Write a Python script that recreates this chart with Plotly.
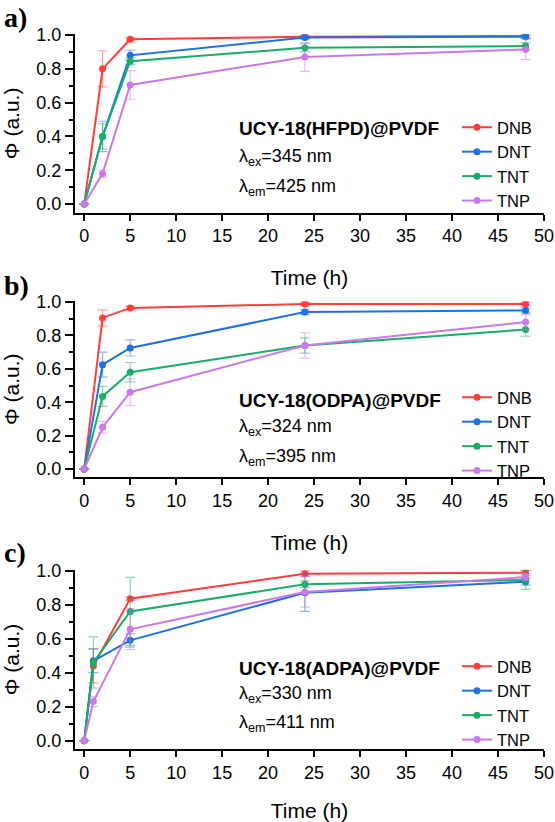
import plotly.graph_objects as go

# ---------------- data ----------------
series_names = ["DNB", "DNT", "TNT", "TNP"]
colors = ["#ff3d3d", "#1f6fe6", "#19ad68", "#c979ea"]
err_colors = ["rgba(255,61,61,0.5)", "rgba(31,111,230,0.5)", "rgba(25,173,104,0.5)", "rgba(201,121,234,0.5)"]

time_a = [0, 2, 5, 24, 48]
a_DNB = [0, 0.80, 0.975, 0.99, 0.995]
a_DNT = [0, 0.40, 0.88, 0.985, 0.99]
a_TNT = [0, 0.40, 0.845, 0.925, 0.935]
a_TNP = [0, 0.18, 0.705, 0.87, 0.915]
a_err_DNB = [0, 0.107, 0.01, 0.01, 0.01]
a_err_DNT = [0, 0.09, 0.03, 0.01, 0.01]
a_err_TNT = [0, 0.075, 0.02, 0.025, 0.02]
a_err_TNP = [0, 0.02, 0.085, 0.085, 0.06]

time_b = [0, 2, 5, 24, 48]
b_DNB = [0, 0.905, 0.965, 0.988, 0.988]
b_DNT = [0, 0.625, 0.725, 0.94, 0.95]
b_TNT = [0, 0.435, 0.58, 0.74, 0.835]
b_TNP = [0, 0.25, 0.46, 0.74, 0.88]
b_err_DNB = [0, 0.048, 0.01, 0.01, 0.01]
b_err_DNT = [0, 0.075, 0.048, 0.015, 0.015]
b_err_TNT = [0, 0.06, 0.058, 0.046, 0.04]
b_err_TNP = [0, 0.035, 0.08, 0.076, 0.046]

time_c = [0, 1, 5, 24, 48]
c_DNB = [0, 0.44, 0.835, 0.982, 0.988]
c_DNT = [0, 0.47, 0.59, 0.87, 0.935]
c_TNT = [0, 0.46, 0.76, 0.92, 0.945]
c_TNP = [0, 0.23, 0.655, 0.875, 0.962]
c_err_DNB = [0, 0.10, 0.01, 0.015, 0.015]
c_err_DNT = [0, 0.07, 0.04, 0.11, 0.02]
c_err_TNT = [0, 0.15, 0.20, 0.02, 0.055]
c_err_TNP = [0, 0.03, 0.12, 0.09, 0.02]

panel_labels = ["a)", "b)", "c)"]
sample_names = ["UCY-18(HFPD)@PVDF", "UCY-18(ODPA)@PVDF", "UCY-18(ADPA)@PVDF"]
lambda_ex = ["345", "324", "330"]
lambda_em = ["425", "395", "411"]

panels = [
    (time_a, [a_DNB, a_DNT, a_TNT, a_TNP], [a_err_DNB, a_err_DNT, a_err_TNT, a_err_TNP]),
    (time_b, [b_DNB, b_DNT, b_TNT, b_TNP], [b_err_DNB, b_err_DNT, b_err_TNT, b_err_TNP]),
    (time_c, [c_DNB, c_DNT, c_TNT, c_TNP], [c_err_DNB, c_err_DNT, c_err_TNT, c_err_TNP]),
]

# ---------------- layout geometry (pixels) ----------------
W, H = 555, 822
FONT = "Liberation Sans, Arial, sans-serif"
x_dom = [75 / W, 544 / W]
# (top px, bottom px) of each plot area
y_px = [(34.2, 212.5), (301.2, 477.4), (569.8, 749.2)]
label_y = [17, 285, 552]
text_y = [(128, 157, 187), (400, 427, 457), (668, 694, 723)]
legend_top = [110, 380, 649]

fig = go.Figure()

for p, (t, vals, errs) in enumerate(panels):
    sfx = "" if p == 0 else str(p + 1)
    leg = "legend" if p == 0 else f"legend{p + 1}"
    for i, name in enumerate(series_names):
        fig.add_trace(go.Scatter(
            x=t, y=vals[i], name=name, mode="lines+markers",
            line=dict(color=colors[i], width=2),
            marker=dict(color=colors[i], size=7),
            error_y=dict(type="data", array=errs[i], color=err_colors[i], thickness=1.2, width=5),
            xaxis="x" + sfx, yaxis="y" + sfx, legend=leg,
        ))
    top, bot = y_px[p]
    ydom = [1 - bot / H, 1 - top / H]
    axis_common = dict(showline=True, linecolor="black", linewidth=2, showgrid=False, zeroline=False,
                       ticks="outside", tickcolor="black", tickwidth=1.5, automargin=False,
                       tickfont=dict(family=FONT, size=18, color="black"))
    fig.update_layout(**{
        "xaxis" + sfx: dict(domain=x_dom, range=[-1, 50], dtick=5, tick0=0, ticklen=6,
                            anchor="y" + sfx,
                            title=dict(text="Time (h)", font=dict(family=FONT, size=21, color="black"), standoff=25),
                            **axis_common),
        "yaxis" + sfx: dict(domain=ydom, range=[-0.05, 1.005], dtick=0.2, tick0=0, ticklen=8,
                            tickformat=".1f", anchor="x" + sfx,
                            minor=dict(dtick=0.1, ticklen=4, ticks="outside", tickcolor="black", tickwidth=1.5),
                            title=dict(text="Φ (a.u.)", font=dict(family=FONT, size=21, color="black"), standoff=12),
                            **axis_common),
        leg: dict(x=457 / W, y=1 - legend_top[p] / H, xanchor="left", yanchor="top",
                  bgcolor="rgba(0,0,0,0)", font=dict(family=FONT, size=16.5, color="black"),
                  tracegroupgap=0),
    })
    fig.add_annotation(text="<b>" + panel_labels[p] + "</b>", x=2 / W, y=1 - label_y[p] / H,
                       xref="paper", yref="paper",
                       xanchor="left", yanchor="middle", showarrow=False,
                       font=dict(family="Liberation Serif, Times New Roman, serif", size=28, color="black"))
    lines = [f"<b>{sample_names[p]}</b>",
             f"λ<sub>ex</sub>={lambda_ex[p]} nm",
             f"λ<sub>em</sub>={lambda_em[p]} nm"]
    for j, txt in enumerate(lines):
        fig.add_annotation(text=txt, x=237 / W, y=1 - text_y[p][j] / H, xref="paper", yref="paper",
                           xanchor="left", yanchor="middle", showarrow=False,
                           font=dict(family=FONT, size=19 if j == 0 else 18, color="black"))

fig.update_layout(width=W, height=H, margin=dict(l=0, r=0, t=0, b=0, autoexpand=False),
                  paper_bgcolor="white", plot_bgcolor="white", showlegend=True)

fig.write_html("out.html")
